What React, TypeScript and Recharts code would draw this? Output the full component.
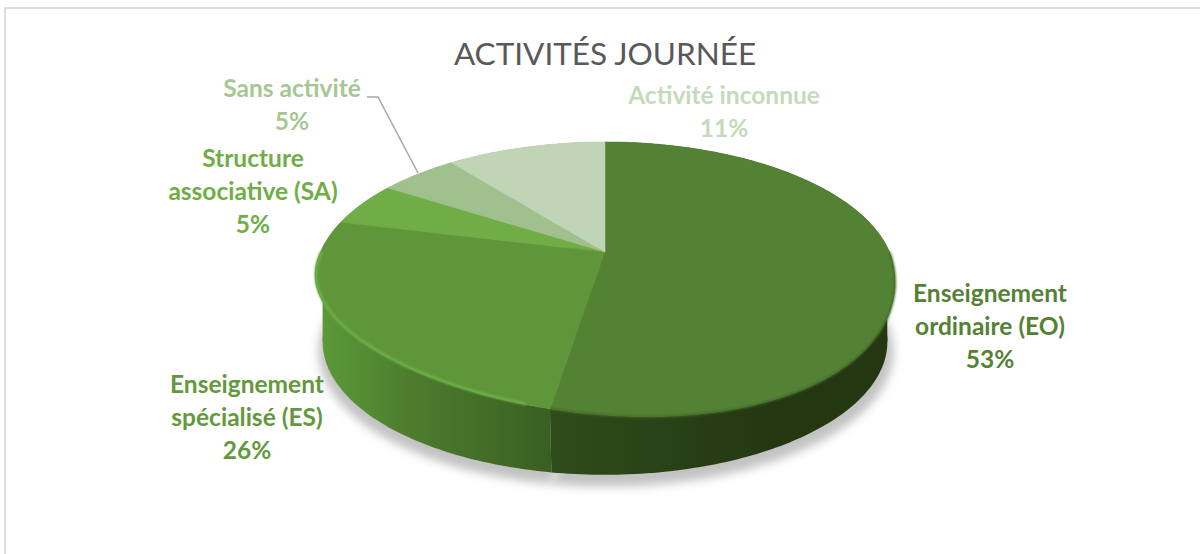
import React from 'react'
import { PieChart, Pie } from 'recharts'

const categories = ['Enseignement ordinaire (EO)', 'Enseignement spécialisé (ES)', 'Structure associative (SA)', 'Sans activité', 'Activité inconnue']
const shares = [52.5, 26.3, 5.25, 5.25, 10.7]
const topColors = ['#548235', '#5f963a', '#70ad47', '#a0c08d', '#c0d4b6']
const labelColors = ['#548235', '#62993c', '#70ad47', '#a6c792', '#c6dabb']
const wallColors = ['url(#wallEO)', 'url(#wallES)', '#5b8f3a', '#86a675', '#a0b296']

// lignes de texte des étiquettes
const labelLines = [
  ['Enseignement', 'ordinaire (EO)'],
  ['Enseignement', 'spécialisé (ES)'],
  ['Structure', 'associative (SA)'],
  ['Sans activité'],
  ['Activité inconnue'],
]
const labelSpots = [
  { x: 990, y: 302 },
  { x: 247, y: 393 },
  { x: 253, y: 167 },
  { x: 292, y: 97 },
  { x: 724, y: 104 },
]

const topRows = categories.map((name, i) => ({ name, value: shares[i], fill: topColors[i] }))
const wallRows = categories.map((name, i) => ({ name, value: shares[i], fill: wallColors[i] }))
const shadowRows = categories.map((name, i) => ({ name, value: shares[i], fill: '#c2c2c2' }))

const FONT = 'Lato, "Open Sans", sans-serif'
const TILT = 0.462
const PERSP = 0.194
const SKEW = 0.07
const TOP = { cx: 605, cy: 252, r: 284.5 }

// skew: le bord avant de la face penche un peu vers la droite
const project = (cx: number, cy: number, r: number, deg: number, skew = 0) => {
  const t = (deg * Math.PI) / 180
  const u = Math.cos(t)
  const v = Math.sin(t)
  const w = 1 + PERSP * v
  const x = (r * u) / w
  return [cx + x, cy - (r * TILT * v) / w + skew * x * Math.max(0, -v)]
}

const arcPoints = (cx: number, cy: number, r: number, from: number, to: number, skew = 0) => {
  const steps = Math.max(2, Math.ceil(Math.abs(to - from)))
  const pts: number[][] = []
  for (let i = 0; i <= steps; i++) pts.push(project(cx, cy, r, from + ((to - from) * i) / steps, skew))
  return pts
}

const toPath = (pts: number[][]) => 'M' + pts.map((p) => p[0].toFixed(1) + ' ' + p[1].toFixed(1)).join('L')

// face supérieure, avec le centre décalé par la perspective
const TopSector = (props: any) => {
  const { cx, cy, outerRadius, startAngle, endAngle, fill, index } = props
  const arc = arcPoints(cx, cy, outerRadius, startAngle, endAngle, SKEW)
  const d = toPath([[cx, cy], ...arc]) + 'Z'
  return (
    <g>
      <path d={d} fill={fill} stroke={fill} strokeWidth={0.5} />
      {index === 0 && (
        <path
          d={toPath(arcPoints(cx, cy, outerRadius, 0, endAngle, SKEW))}
          fill="none"
          stroke="#44692b"
          strokeWidth={2}
          filter="url(#soft)"
        />
      )}
      {index === 1 && (
        <path
          d={toPath(arcPoints(cx, cy, outerRadius - 1, startAngle - 4, -180, SKEW))}
          fill="none"
          stroke="#6db448"
          strokeWidth={2.6}
          filter="url(#soft)"
        />
      )}
    </g>
  )
}

// coin entre le bord de la face et l'extrémité du bas, pour garder un flanc presque vertical
const sideWedge = (cx: number, cy: number, r: number, from: number, to: number, side: number) => {
  const lower = arcPoints(cx, cy, r, from, to)
  const extreme = lower.reduce((best, p) => (p[0] * side > best[0] * side ? p : best), lower[0])
  const upper = arcPoints(TOP.cx, TOP.cy, TOP.r, from - 45 * side, to, SKEW)
  const edge = upper.reduce((best, p) => (Math.abs(p[0] - extreme[0]) < Math.abs(best[0] - extreme[0]) ? p : best), upper[0])
  return toPath([extreme, edge, [TOP.cx, edge[1]], [TOP.cx, extreme[1]]]) + 'Z'
}

// flanc du disque, entre le bord de la face et le bord du bas
const WallSector = (props: any) => {
  const { cx, cy, outerRadius, startAngle, endAngle, fill, index } = props
  const upper = arcPoints(TOP.cx, TOP.cy, TOP.r, startAngle, endAngle, SKEW)
  const lower = arcPoints(cx, cy, outerRadius, endAngle, startAngle)
  return (
    <g>
      {index === 0 && <path d={sideWedge(cx, cy, outerRadius, 20, -20, 1)} fill={fill} />}
      {index === 1 && <path d={sideWedge(cx, cy, outerRadius, -160, -200, -1)} fill={fill} />}
      <path d={toPath([...upper, ...lower]) + 'Z'} fill={fill} />
    </g>
  )
}

const ShadowSector = (props: any) => {
  const { cx, cy, outerRadius, startAngle, endAngle, fill } = props
  const arc = arcPoints(cx, cy, outerRadius, startAngle, endAngle)
  return <path d={toPath([[cx, cy], ...arc]) + 'Z'} fill={fill} filter="url(#blur)" />
}

const renderLabel = (props: any) => {
  const i = props.index
  const spot = labelSpots[i]
  const lines = [...labelLines[i], Math.round(shares[i]) + '%']
  return (
    <g key={i}>
      {i === 3 && <polyline points="367,97 378,97 418,173" fill="none" stroke="#a6a6a6" strokeWidth={1.5} />}
      <text x={spot.x} y={spot.y} textAnchor="middle" fontFamily={FONT} fontWeight={700} fontSize={24.5} fill={labelColors[i]}>
        {lines.map((line, n) => (
          <tspan key={n} x={spot.x} dy={n === 0 ? 0 : 33}>
            {line}
          </tspan>
        ))}
      </text>
    </g>
  )
}

export default function App() {
  return (
    <div style={{ position: 'absolute', left: 0, top: 0, width: 1200, height: 554, background: '#fff' }}>
      <div style={{ position: 'absolute', left: 4, top: 7, width: 1196, height: 2, background: '#dedede' }} />
      <div style={{ position: 'absolute', left: 4, top: 7, width: 2, height: 547, background: '#dedede' }} />
      <div style={{ position: 'absolute', left: 0, top: 0 }}>
        <PieChart width={1200} height={554} margin={{ top: 0, right: 0, bottom: 0, left: 0 }}>
          <defs>
            <linearGradient id="wallEO" gradientUnits="userSpaceOnUse" x1={550} y1={0} x2={780} y2={0}>
              <stop offset="0" stopColor="#2f4c1b" />
              <stop offset="1" stopColor="#233711" />
            </linearGradient>
            <linearGradient id="wallES" gradientUnits="userSpaceOnUse" x1={318} y1={0} x2={550} y2={0}>
              <stop offset="0" stopColor="#5c9a39" />
              <stop offset="0.4" stopColor="#4c7d2d" />
              <stop offset="1" stopColor="#3a5f22" />
            </linearGradient>
            <filter id="blur" x="-20%" y="-20%" width="140%" height="140%">
              <feGaussianBlur stdDeviation={5} />
            </filter>
            <filter id="soft" x="-5%" y="-5%" width="110%" height="110%">
              <feGaussianBlur stdDeviation={1} />
            </filter>
          </defs>
          <text x={605} y={65} textAnchor="middle" fontFamily={FONT} fontSize={31.5} fill="#595959">
            ACTIVITÉS JOURNÉE
          </text>
          <Pie
            data={shadowRows}
            dataKey="value"
            nameKey="name"
            cx={606}
            cy={325}
            outerRadius={282}
            startAngle={90}
            endAngle={-270}
            stroke="none"
            shape={ShadowSector}
            isAnimationActive={false}
          />
          <Pie
            data={wallRows}
            dataKey="value"
            nameKey="name"
            cx={605}
            cy={316}
            outerRadius={277}
            startAngle={90}
            endAngle={-270}
            stroke="none"
            shape={WallSector}
            isAnimationActive={false}
          />
          <Pie
            data={topRows}
            dataKey="value"
            nameKey="name"
            cx={TOP.cx}
            cy={TOP.cy}
            outerRadius={TOP.r}
            startAngle={90}
            endAngle={-270}
            stroke="none"
            shape={TopSector}
            label={renderLabel}
            labelLine={false}
            isAnimationActive={false}
          />
        </PieChart>
      </div>
    </div>
  )
}
